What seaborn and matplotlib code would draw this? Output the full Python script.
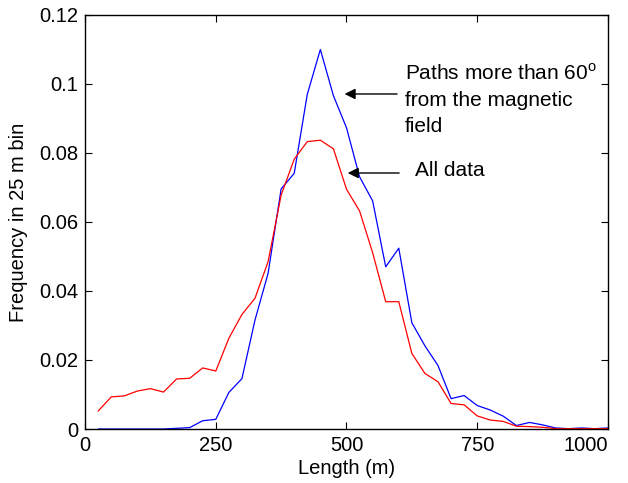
import numpy as np
import pandas as pd
import matplotlib
matplotlib.use("Agg")
import matplotlib.pyplot as plt
import seaborn as sns

length = list(range(25, 1001, 25))
all_data = [0.0052, 0.0093, 0.0096, 0.0110, 0.0117, 0.0107, 0.0145, 0.0147, 0.0177, 0.0168,
            0.0263, 0.0332, 0.0379, 0.0485, 0.0678, 0.0782, 0.0833, 0.0837, 0.0812, 0.0695,
            0.0632, 0.0511, 0.0369, 0.0369, 0.0219, 0.0161, 0.0137, 0.0074, 0.0070, 0.0038,
            0.0026, 0.0022, 0.0008, 0.0007, 0.0005, 0.0001, 0.0001, 0.0001, 0.0001, 0.0001]
perp = [0.0, 0.0, 0.0, 0.0, 0.0, 0.0, 0.0002, 0.0004, 0.0024, 0.0028,
        0.0106, 0.0146, 0.0316, 0.0451, 0.0696, 0.0741, 0.0970, 0.1100, 0.0966, 0.0873,
        0.0731, 0.0661, 0.0470, 0.0524, 0.0308, 0.0241, 0.0184, 0.0088, 0.0097, 0.0068,
        0.0055, 0.0037, 0.0010, 0.0019, 0.0012, 0.0003, 0.0001, 0.0003, 0.0001, 0.0003]
x_ticks = [0, 250, 500, 750, 1000]
y_ticks = [0, 0.02, 0.04, 0.06, 0.08, 0.1, 0.12]
y_ticklabels = ["0", "0.02", "0.04", "0.06", "0.08", "0.1", "0.12"]

sns.set_style("ticks")
plt.rcParams["font.family"] = ["Liberation Sans", "DejaVu Sans"]
plt.rcParams["mathtext.fontset"] = "custom"
plt.rcParams["mathtext.rm"] = "Liberation Sans"
for k in ["text.color", "axes.labelcolor", "xtick.color", "ytick.color", "axes.edgecolor"]:
    plt.rcParams[k] = "black"

df = pd.DataFrame({
    "Length": length * 2,
    "Freq": perp + all_data,
    "Series": ["perp"] * len(length) + ["all"] * len(length),
})

fig = plt.figure(figsize=(6.28, 4.83), dpi=100)
ax = fig.add_axes([0.1355, 0.1118, 0.8325, 0.8572])
sns.lineplot(data=df, x="Length", y="Freq", hue="Series",
             palette={"perp": "#0000ff", "all": "#ff0000"},
             linewidth=0.9, legend=False, ax=ax)

ax.set_xlim(0, 1000)
ax.set_ylim(0, 0.12)
ax.set_xticks(x_ticks)
ax.set_yticks(y_ticks)
ax.set_yticklabels(y_ticklabels)
ax.tick_params(direction="in", top=True, right=True, labelsize=14.5, length=5, width=0.8, pad=5,
               colors="black")
for s in ax.spines.values():
    s.set_visible(True)
    s.set_linewidth(1.0)
    s.set_color("black")
labels = ax.get_xticklabels()
labels[-1].set_horizontalalignment("right")

ax.set_xlabel("Length (m)", fontsize=14.5, labelpad=3, color="black")
ax.set_ylabel("Frequency in 25 m bin", fontsize=14.5, labelpad=8, color="black")

ax.annotate("", xy=(491, 0.0971), xytext=(602, 0.0971),
            arrowprops=dict(arrowstyle="-|>", color="black", lw=1.0, mutation_scale=16))
ax.text(611, 0.0955, "Paths more than 60$^{\\mathrm{o}}$\nfrom the magnetic\nfield",
        fontsize=15, ha="left", va="center", linespacing=1.45, color="black")
ax.annotate("", xy=(497, 0.0742), xytext=(606, 0.0742),
            arrowprops=dict(arrowstyle="-|>", color="black", lw=1.0, mutation_scale=16))
ax.text(631, 0.0748, "All data", fontsize=15, ha="left", va="center", color="black")

fig.savefig("out.png", dpi=100)
